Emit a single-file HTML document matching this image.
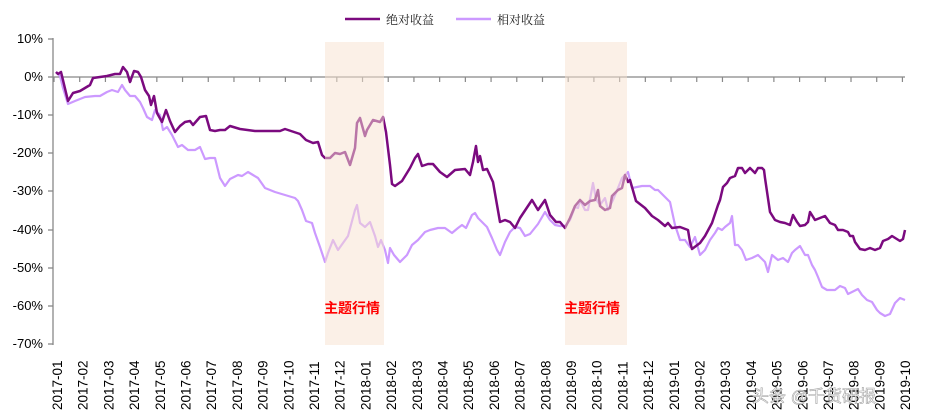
<!DOCTYPE html>
<html><head><meta charset="utf-8"><style>
body{margin:0;background:#fff;width:933px;height:419px;overflow:hidden}
svg{display:block}
text{font-family:"Liberation Sans","Noto Sans CJK SC",sans-serif}
</style></head><body>
<svg width="933" height="419" viewBox="0 0 933 419" xmlns="http://www.w3.org/2000/svg">
<line x1="345" y1="19" x2="380" y2="19" stroke="#7b0a7f" stroke-width="2.5"/>
<text x="386" y="24" font-size="12" fill="#222" style="font-family:'Noto Serif CJK SC',serif">绝对收益</text>
<line x1="456" y1="19" x2="491" y2="19" stroke="#cc99ff" stroke-width="2.5"/>
<text x="497" y="24" font-size="12" fill="#222" style="font-family:'Noto Serif CJK SC',serif">相对收益</text>
<g font-size="13" fill="#000" text-anchor="end">
<text x="43" y="43">10%</text><text x="43" y="81">0%</text><text x="43" y="119">-10%</text>
<text x="43" y="157">-20%</text><text x="43" y="195">-30%</text><text x="43" y="234">-40%</text>
<text x="43" y="272">-50%</text><text x="43" y="310">-60%</text><text x="43" y="348">-70%</text>
</g>
<line x1="53" y1="38" x2="53" y2="345" stroke="#888" stroke-width="1.3"/>
<g stroke="#888" stroke-width="1.3">
<line x1="48" y1="39" x2="53" y2="39"/><line x1="48" y1="77" x2="53" y2="77"/><line x1="48" y1="115" x2="53" y2="115"/>
<line x1="48" y1="153" x2="53" y2="153"/><line x1="48" y1="191" x2="53" y2="191"/><line x1="48" y1="230" x2="53" y2="230"/>
<line x1="48" y1="268" x2="53" y2="268"/><line x1="48" y1="306" x2="53" y2="306"/><line x1="48" y1="344" x2="53" y2="344"/>
</g>
<line x1="53" y1="77" x2="905" y2="77" stroke="#888" stroke-width="1.3"/>
<g stroke="#888" stroke-width="1.2" id="ticks"></g>
<polyline fill="none" stroke="#cc99ff" stroke-width="2.2" stroke-linejoin="round" points="56,72 60,76 63,88 68,104 75,101 85,97 95,96 100,96 107,92 112,90 118,92 122,85 125,90 130,96 135,96 140,102 143,108 147,117 152,120 155,110 160,115 163,130 167,127 172,135 175,141 178,147 182,145 188,150 195,150 200,147 205,159 210,158 215,158 220,178 225,186 230,179 238,175 242,176 248,172 253,175 258,178 265,188 275,192 285,195 295,198 298,201 302,210 306,221 312,223 315,233 320,247 325,262 328,253 333,240 338,250 343,243 348,236 355,210 357,205 360,223 365,227 370,222 375,236 378,247 381,240 385,250 388,263 390,248 394,255 400,262 407,255 412,245 418,240 425,232 430,230 438,228 445,228 452,233 458,228 462,225 466,228 472,215 475,213 478,218 482,222 487,227 492,238 497,250 500,255 505,242 510,232 515,227 520,228 525,236 530,234 538,224 545,212 550,220 555,225 560,226 565,226 570,220 575,207 578,208 580,200 585,210 588,210 593,183 596,199 600,205 605,198 608,210 613,200 618,188 622,178 625,175 628,172 632,188 637,187 642,186 650,186 655,190 658,190 665,197 670,202 675,225 680,240 685,240 690,247 695,237 700,255 705,250 710,240 715,233 718,228 722,230 725,227 730,223 732,216 735,245 738,245 742,250 746,260 752,258 758,255 765,262 768,272 772,255 778,260 783,258 788,262 792,253 795,250 800,246 805,255 808,255 812,265 815,270 818,277 822,287 827,290 835,290 840,286 845,288 848,294 852,292 858,289 862,295 867,300 872,302 877,310 880,313 885,316 890,314 895,303 900,298 905,300"/>
<polyline fill="none" stroke="#7b0a7f" stroke-width="2.5" stroke-linejoin="round" points="56,72 58,74 61,72 62,76 68,101 73,93 80,91 90,85 93,78 100,77 107,76 115,74 120,74 123,67 127,72 130,82 134,71 138,72 141,77 145,90 149,96 151,105 154,96 157,113 162,122 166,110 170,121 175,132 180,126 185,122 190,121 193,125 200,117 206,116 210,130 215,131 220,130 225,130 230,126 240,129 255,131 270,131 280,131 285,129 300,134 306,140 313,143 318,142 322,155 325,158 330,158 335,153 340,154 345,152 350,165 355,148 357,123 360,118 365,136 367,130 373,120 380,122 383,117 386,132 390,165 392,184 395,186 402,181 410,168 415,158 418,154 422,166 428,164 433,164 440,172 447,177 455,170 465,169 470,175 473,162 476,146 478,162 480,156 483,170 487,169 493,182 500,222 505,220 510,222 515,228 520,218 532,200 538,210 545,200 550,215 556,222 560,222 565,228 570,218 575,206 580,200 585,205 590,201 595,200 598,190 600,206 605,210 610,208 612,196 618,190 622,188 625,175 628,182 630,180 636,201 645,208 652,216 658,220 665,226 668,223 672,228 680,227 688,230 690,242 692,249 700,243 705,236 712,223 718,205 720,200 723,187 727,183 730,178 735,176 738,168 742,168 745,173 750,168 755,173 758,168 762,168 764,170 765,178 770,212 775,220 780,222 785,223 790,225 793,215 797,222 800,226 805,225 808,222 810,212 815,220 820,218 825,216 830,223 835,225 838,230 843,230 848,232 850,236 853,236 855,242 860,249 865,250 870,248 875,250 880,248 883,241 888,239 892,236 900,241 903,239 905,230"/>
<rect x="325" y="42" width="59" height="303" fill="#f8e2cf" opacity="0.5"/>
<rect x="565" y="42" width="62" height="303" fill="#f8e2cf" opacity="0.5"/>
<g font-size="14" font-weight="bold" fill="#ff0000" style="font-family:'Noto Serif CJK SC',serif">
<text x="324" y="313">主题行情</text><text x="564" y="313">主题行情</text>
</g>
<g font-size="13.5" fill="#000" id="xl"></g>
<text x="752" y="402" font-size="17" fill="#fff" stroke="#999" stroke-width="0.6" opacity="0.9">头条 @千货研报</text>
<script>
var t=document.getElementById('ticks'),xl=document.getElementById('xl'),ns="http://www.w3.org/2000/svg";
var step=(905-54)/33.1;
for(var i=0;i<34;i++){
 var x=54+step*i;
 var l=document.createElementNS(ns,'line');l.setAttribute('x1',x);l.setAttribute('x2',x);l.setAttribute('y1',77);l.setAttribute('y2',82);t.appendChild(l);
 var y=2017+Math.floor(i/12),m=(i%12)+1;
 var s=y+'-'+(m<10?'0'+m:m);
 var cx=57+25.7*i;
 var tx=document.createElementNS(ns,'text');
 tx.setAttribute('transform','translate('+(cx+5)+',410) rotate(-90)');tx.textContent=s;xl.appendChild(tx);
}
</script>
</svg>
</body></html>
